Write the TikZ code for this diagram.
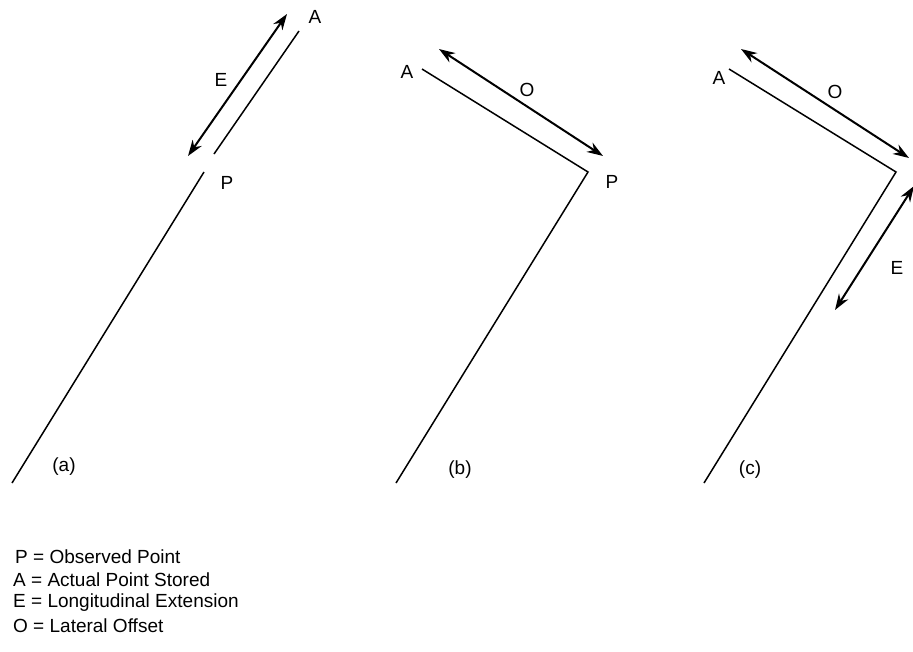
\documentclass[tikz,border=0pt]{standalone}
\usepackage{fontspec}
\setmainfont{Liberation Sans}
\usetikzlibrary{arrows.meta}

\begin{document}
\begin{tikzpicture}[x=1pt, y=-1pt, >={Stealth[length=16pt,width=11pt]},
  road/.style={line width=1.5pt},
  offsetarrow/.style={line width=2pt, <->},
  lbl/.style={font=\fontsize{19}{22}\selectfont, inner sep=0pt}]
  \useasboundingbox (0,0) rectangle (913,651);
  % (a) longitudinal extension
  \coordinate (a0) at (12,483);
  \coordinate (aP) at (204,172);
  \coordinate (aA1) at (214,154);
  \coordinate (aA) at (299,31);
  \coordinate (aE1) at (188,156);
  \coordinate (aE2) at (287,14);
  \draw[road] (a0) -- (aP);
  \draw[road] (aA1) -- (aA);
  \draw[offsetarrow] (aE1) -- (aE2);
  \node[lbl] (aPl) at (227,183) {P};
  \node[lbl] (aAl) at (315,17) {A};
  \node[lbl] (aEl) at (221,80) {E};
  \node[lbl] (aCap) at (64,467) {(a)};
  % (b) lateral offset
  \coordinate (b0) at (396,483);
  \coordinate (bP) at (588,172);
  \coordinate (bA) at (422,69);
  \coordinate (bO1) at (439,49);
  \coordinate (bO2) at (603,156);
  \draw[road] (b0) -- (bP) -- (bA);
  \draw[offsetarrow] (bO1) -- (bO2);
  \node[lbl] (bPl) at (612,182) {P};
  \node[lbl] (bAl) at (407,72) {A};
  \node[lbl] (bOl) at (527,90) {O};
  \node[lbl] (bCap) at (460,470) {(b)};
  % (c) both
  \coordinate (c0) at (704,483);
  \coordinate (cP) at (896,172);
  \coordinate (cA) at (729,69);
  \coordinate (cO1) at (741,49);
  \coordinate (cO2) at (909,158);
  \coordinate (cE1) at (835,310);
  \coordinate (cE2) at (914,186);
  \draw[road] (c0) -- (cP) -- (cA);
  \draw[offsetarrow] (cO1) -- (cO2);
  \draw[offsetarrow] (cE1) -- (cE2);
  \node[lbl] (cAl) at (719,78) {A};
  \node[lbl] (cOl) at (835,92) {O};
  \node[lbl] (cEl) at (897,268) {E};
  \node[lbl] (cCap) at (750,470) {(c)};
  % key
  \node[lbl, anchor=west] (keyP) at (15,557) {P = Observed Point};
  \node[lbl, anchor=west] (keyA) at (13,580) {A = Actual Point Stored};
  \node[lbl, anchor=west] (keyE) at (13,603) {E = Longitudinal Extension};
  \node[lbl, anchor=west] (keyO) at (13,626) {O = Lateral Offset};
\end{tikzpicture}
\end{document}
